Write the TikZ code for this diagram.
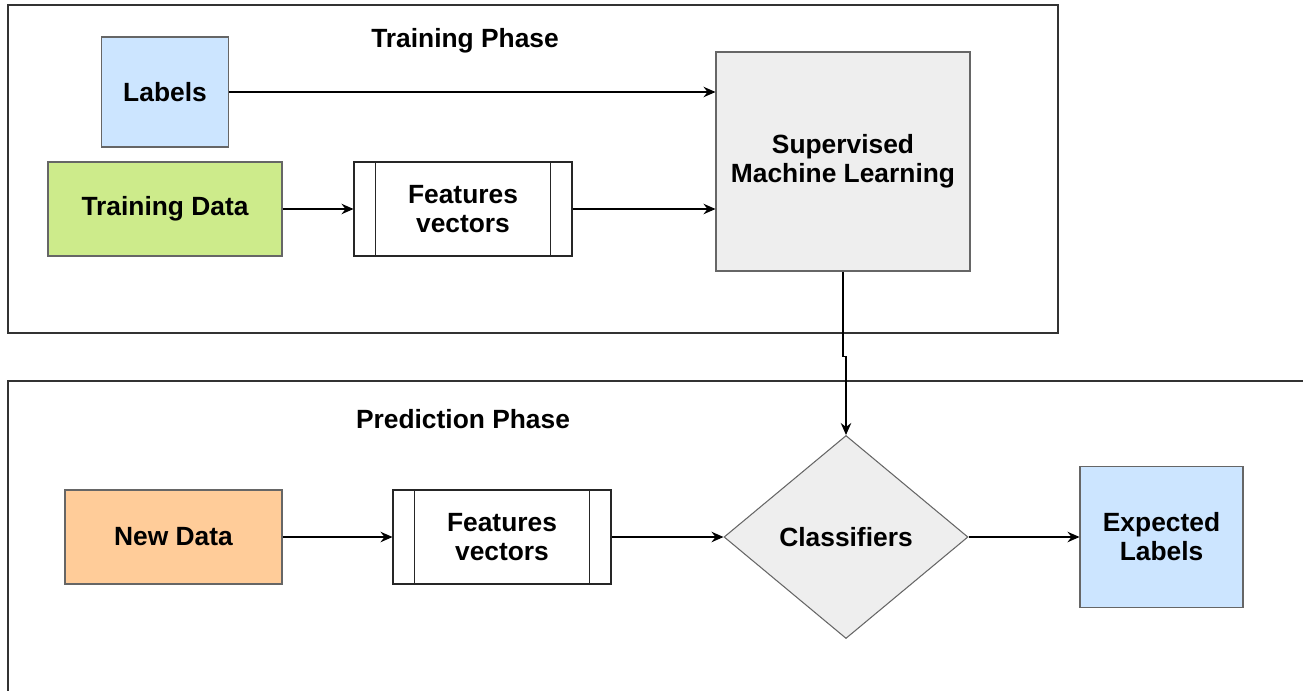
\documentclass[tikz,border=0pt]{standalone}
\usepackage{fontspec}
\setmainfont{Liberation Sans}
\usetikzlibrary{shapes.geometric,positioning,arrows.meta}

\definecolor{lblue}{HTML}{CCE5FF}
\definecolor{lgreen}{HTML}{CDEB8B}
\definecolor{lorange}{HTML}{FFCC99}
\definecolor{lgray}{HTML}{EEEEEE}
\definecolor{edge}{HTML}{666666}

\tikzstyle{block} = [rectangle, draw=edge, line width=0.6pt, text centered, align=center, inner sep=0pt]
\tikzstyle{process} = [block, draw=black!85, fill=white]
\tikzstyle{decision} = [diamond, draw=edge, line width=0.6pt, fill=lgray, align=center, inner sep=0pt, minimum width=4.88cm, minimum height=4.06cm]
\tikzstyle{phase} = [draw=black!80, line width=0.8pt]
\tikzstyle{arrow} = [draw, line width=0.6pt, -{Stealth[length=2.4mm, width=2.1mm, inset=0.8mm]}]

\begin{document}
\begin{tikzpicture}[font=\fontsize{15}{16.5}\selectfont\bfseries, node distance=1cm]
    \useasboundingbox (0,0) rectangle (26.06,-13.82);

    % frames
    \draw[phase] (0.16,-0.1) rectangle (21.16,-6.66);
    \draw[phase] (26.06,-7.62) -- (0.16,-7.62) -- (0.16,-13.82);
    \node (trainphase) at (9.3,-0.82) {Training Phase};
    \node (predphase) at (9.26,-8.38) {Prediction Phase};

    % training phase
    \node[block, fill=lgreen, minimum width=4.68cm, minimum height=1.88cm] (tdata) at (3.3,-4.18) {Training Data};
    \node[block, fill=lblue, minimum width=2.54cm, minimum height=2.2cm, above of=tdata, node distance=2.34cm] (labels) {Labels};
    \node[process, minimum width=4.36cm, minimum height=1.88cm, right of=tdata, node distance=5.96cm] (fvtrain) {Features\\vectors};
    \node[block, fill=lgray, minimum width=5.08cm, minimum height=4.38cm, right of=fvtrain, node distance=7.6cm, yshift=0.95cm] (sml) {Supervised\\Machine Learning};

    % prediction phase
    \node[block, fill=lorange, minimum width=4.34cm, minimum height=1.88cm] (ndata) at (3.47,-10.74) {New Data};
    \node[process, minimum width=4.36cm, minimum height=1.88cm, right of=ndata, node distance=6.57cm] (fvpred) {Features\\vectors};
    \node[decision, right of=fvpred, node distance=6.88cm] (cls) {Classifiers};
    \node[block, fill=lblue, minimum width=3.26cm, minimum height=2.82cm, right of=cls, node distance=6.31cm] (explabels) {Expected\\Labels};

    % process side bars
    \draw[black!85, line width=0.6pt] ([xshift=0.44cm]fvtrain.north west) -- ([xshift=0.44cm]fvtrain.south west);
    \draw[black!85, line width=0.6pt] ([xshift=-0.44cm]fvtrain.north east) -- ([xshift=-0.44cm]fvtrain.south east);
    \draw[black!85, line width=0.6pt] ([xshift=0.44cm]fvpred.north west) -- ([xshift=0.44cm]fvpred.south west);
    \draw[black!85, line width=0.6pt] ([xshift=-0.44cm]fvpred.north east) -- ([xshift=-0.44cm]fvpred.south east);

    % lines
    \draw [arrow] (labels.east) -- (labels.east -| sml.west);
    \draw [arrow] (tdata.east) -- (fvtrain.west);
    \draw [arrow] (fvtrain.east) -- (fvtrain.east -| sml.west);
    \draw [arrow] (sml.south) -- ++(0,-1.7) -| (cls.north);
    \draw [arrow] (ndata.east) -- (fvpred.west);
    \draw [arrow] (fvpred.east) -- (cls.west);
    \draw [arrow] (cls.east) -- (explabels.west);
\end{tikzpicture}
\end{document}
